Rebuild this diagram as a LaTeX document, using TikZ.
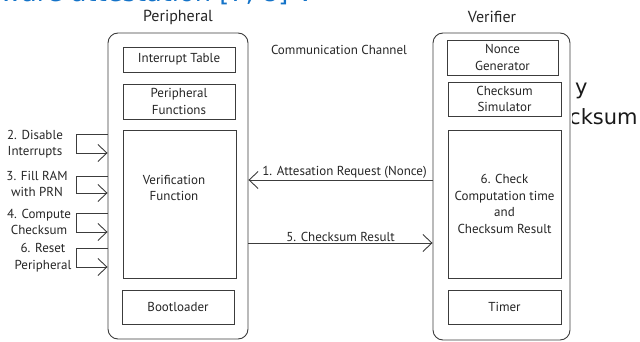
\documentclass[tikz,border=0pt]{standalone}
\usepackage{fontspec}
\setmainfont{PT Sans}
\newfontfamily\slidefont{DejaVu Sans}
\usetikzlibrary{arrows.meta, positioning}
\definecolor{slideblue}{RGB}{20,115,200}
\definecolor{linegray}{RGB}{60,60,60}
\tikzstyle{device} = [rectangle, rounded corners=10pt, draw=linegray, line width=0.9pt, fill=white]
\tikzstyle{block} = [rectangle, draw=linegray, line width=0.9pt, align=center, text centered, inner sep=0pt]
\tikzstyle{steptext} = [align=center, inner sep=0pt]
\tikzstyle{slidetext} = [anchor=base west, inner sep=0pt, font=\slidefont\fontsize{21}{30}\selectfont]
\tikzstyle{arrow} = [line width=0.9pt, draw=linegray, -{Straight Barb[length=9pt,width=17pt]}]

\begin{document}
\begin{tikzpicture}[x=1pt, y=-1pt, font=\fontsize{13}{16.5}\selectfont, text=black!85]
\useasboundingbox (0,0) rectangle (640,342);

%%% slide text behind the picture %%%%%%%%%%%%%%%
\begin{scope}
\clip (0,0) rectangle (640,342);
\node (heading) [slidetext, text=slideblue, font=\slidefont\fontsize{25.7}{30}\selectfont] at (0,1.5) {ware attestation [7, 8] V};
\end{scope}
\begin{scope}
\clip (572,70) rectangle (640,140);
\node (slidey) [slidetext, text=black!90] at (575,95) {y};
\node (slidecksum) [slidetext, text=black!90] at (569,125) {cksum};
\end{scope}

%%% peripheral %%%%%%%%%%%%%%%%%%%%%%%
\node (peripheral) [device, minimum width=140pt, minimum height=306pt] at (178,186) {};
\node (perititle) [font=\fontsize{16}{18}\selectfont] at (178,17) {Peripheral};
\node (inttable) [block, minimum width=112pt, minimum height=25pt] at (179,59.5) {Interrupt Table};
\node (perifunc) [block, minimum width=112pt, minimum height=35pt] at (179,101.5) {Peripheral\\Functions};
\node (verifunc) [block, minimum width=113pt, minimum height=148pt] at (179.5,204) {};
\node (verifunctext) [steptext] at (174,188) {Verification\\Function};
\node (bootloader) [block, minimum width=112pt, minimum height=34pt] at (178,307) {Bootloader};

%%% verifier %%%%%%%%%%%%%%%%%%%%%%%%%
\node (verifier) [device, minimum width=137pt, minimum height=307pt] at (501.5,186.5) {};
\node (verititle) [font=\fontsize{16}{18}\selectfont] at (492,17) {Verifier};
\node (nonce) [block, minimum width=111pt, minimum height=35pt] at (502.5,57.5) {Nonce\\Generator};
\node (simulator) [block, minimum width=113pt, minimum height=34pt] at (504.5,99) {Checksum\\Simulator};
\node (check) [block, minimum width=113pt, minimum height=148pt] at (504.5,204) {6. Check\\Computation time\\and\\Checksum Result};
\node (timer) [block, minimum width=113pt, minimum height=34pt] at (504.5,307) {Timer};

\node (channel) at (339,50) {Communication Channel};

%%% steps on the left %%%%%%%%%%%%%%%%%
\node (disablelabel) [steptext] at (35,144) {2. Disable\\Interrupts};
\node (filllabel) [steptext] at (37,184) {3. Fill RAM\\with PRN};
\node (computelabel) [steptext] at (39,222) {4. Compute\\Checksum};
\node (resetlabel) [steptext] at (43,257.5) {6. Reset\\Peripheral};
\coordinate (disabletop) at (76,134);
\coordinate (disablebot) at (76,153);
\coordinate (filltop) at (76,176);
\coordinate (fillbot) at (76,193);
\coordinate (computetop) at (76,213);
\coordinate (computebot) at (76,232);
\coordinate (resettop) at (76,248);
\coordinate (resetbot) at (76,267);

%%% drawing %%%%%%%%%%%%%%%%%%%%%%%
\draw [arrow] (peripheral.west |- disabletop) -- (disabletop) -- (disablebot) -- (peripheral.west |- disablebot);
\draw [arrow] (peripheral.west |- filltop) -- (filltop) -- (fillbot) -- (peripheral.west |- fillbot);
\draw [arrow] (peripheral.west |- computetop) -- (computetop) -- (computebot) -- (peripheral.west |- computebot);
\draw [arrow] (peripheral.west |- resettop) -- (resettop) -- (resetbot) -- (peripheral.west |- resetbot);

\coordinate (request) at (340,180);
\coordinate (result) at (340,243);
\draw [arrow] (verifier.west |- request) -- node[above, inner sep=1pt, xshift=4pt] (requestlabel) {1. Attesation Request (Nonce)} (peripheral.east |- request);
\draw [arrow] (peripheral.east |- result) -- node[above, inner sep=1pt] (resultlabel) {5. Checksum Result} (verifier.west |- result);
\end{tikzpicture}
\end{document}
